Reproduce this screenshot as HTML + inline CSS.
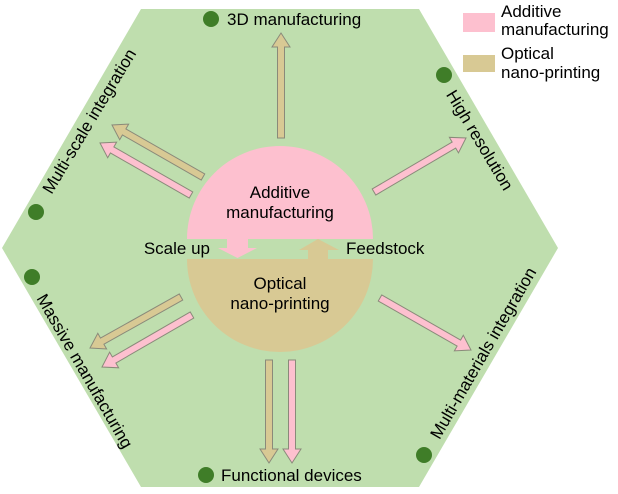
<!DOCTYPE html>
<html><head><meta charset="utf-8"><style>
html,body{margin:0;padding:0;background:#fff}
svg{display:block}
text{font-family:"Liberation Sans",Arial,sans-serif;font-size:17px;fill:#000}
</style></head><body>
<svg id="s" width="618" height="494" viewBox="0 0 618 494" xmlns="http://www.w3.org/2000/svg">
<polygon points="141,9 419,9 558,248 419,487 141,487 2,248" fill="#bfdeae"/>
<path d="M187,239 A93,93 0 0 1 373,239 Z" fill="#fdc0cf"/>
<path d="M187,259 A93,93 0 0 0 373,259 Z" fill="#d8c994"/>
<polygon points="227,239 248,239 248,248 257,248 237.5,258 218,248 227,248" fill="#fdc0cf"/>
<polygon points="308,259 328,259 328,250 339,250 318,239 299,250 308,250" fill="#d8c994"/>
<text x="280" y="198" text-anchor="middle">Additive</text>
<text x="280" y="218" text-anchor="middle">manufacturing</text>
<text x="280" y="289" text-anchor="middle">Optical</text>
<text x="280" y="309" text-anchor="middle">nano-printing</text>
<text x="210" y="254" text-anchor="end">Scale up</text>
<text x="346" y="254">Feedstock</text>
<g fill="#3f7d28">
<ellipse cx="211" cy="19" rx="8" ry="8"/>
<ellipse cx="444" cy="75" rx="8" ry="8"/>
<ellipse cx="36" cy="212" rx="8" ry="8"/>
<ellipse cx="32" cy="277" rx="8" ry="8"/>
<ellipse cx="424" cy="455" rx="8" ry="8"/>
<ellipse cx="206" cy="475" rx="8" ry="8"/>
</g>
<text x="227" y="25">3D manufacturing</text>
<text x="221" y="481">Functional devices</text>
<text transform="translate(480,140) rotate(59)" text-anchor="middle" dy="6">High resolution</text>
<text transform="translate(89,121) rotate(-59)" text-anchor="middle" dy="6">Multi-scale integration</text>
<text transform="translate(85,371) rotate(60)" text-anchor="middle" dy="6">Massive manufacturing</text>
<text transform="translate(483,353) rotate(-60)" text-anchor="middle" dy="6">Multi-materials integration</text>
<rect x="463" y="13" width="32" height="19" fill="#fdc0cf"/>
<rect x="463" y="55" width="32" height="17" fill="#d8c994"/>
<text x="501" y="17">Additive</text>
<text x="501" y="35">manufacturing</text>
<text x="501" y="59">Optical</text>
<text x="501" y="78">nano-printing</text>
<g id="arrows"></g>
</svg>
<script>
var P="#fdc0cf",T="#d8c994";
var A=[[281,138,281,33,T],[203,177,112,125,T],[191,195,100,143,P],[374,192,466,138,P],
[181,297,90,348,T],[192,315,102,367,P],[380,298,471,350,P],[269,360,269,463,T],[292,360,292,463,P]];
var g=document.getElementById("arrows"),s="";
A.forEach(function(a){var dx=a[2]-a[0],dy=a[3]-a[1],L=Math.sqrt(dx*dx+dy*dy),ang=Math.atan2(dy,dx)*180/Math.PI,h=14;
s+='<polygon transform="translate('+a[0]+','+a[1]+') rotate('+ang+')" points="0,-3.5 '+(L-h)+',-3.5 '+(L-h)+',-9 '+L+',0 '+(L-h)+',9 '+(L-h)+',3.5 0,3.5" fill="'+a[4]+'" stroke="#8a8a7a" stroke-width="1"/>';});
g.innerHTML=s;
</script>
</body></html>
